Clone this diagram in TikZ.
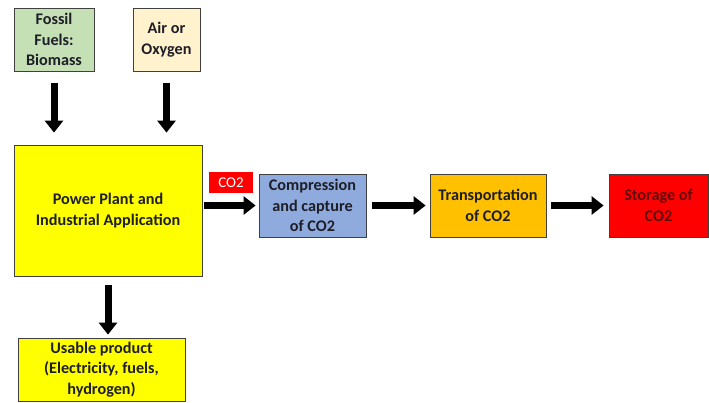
\documentclass[tikz,border=0pt]{standalone}
\usepackage{fontspec}
\setmainfont{Carlito}
\usetikzlibrary{arrows.meta}
\definecolor{fuelgreen}{RGB}{197,224,180}
\definecolor{aircream}{RGB}{255,242,204}
\definecolor{plantyellow}{RGB}{255,255,0}
\definecolor{compblue}{RGB}{143,170,220}
\definecolor{transorange}{RGB}{255,192,0}
\definecolor{storered}{RGB}{255,0,0}
\definecolor{boxline}{RGB}{64,64,64}
\definecolor{txt}{RGB}{30,30,40}
\definecolor{storetxt}{RGB}{95,10,10}

\begin{document}
\begin{tikzpicture}[x=1pt,y=-1pt,
  box/.style={rectangle,draw=boxline,line width=0.8pt,text=txt,align=center,
    inner sep=0pt,font=\fontsize{16.2}{20.5}\selectfont\bfseries},
  fat/.style={line width=7pt,-{Triangle[width=18pt,length=12pt]}}]
   \useasboundingbox (0,0) rectangle (709,402);
   \begin{scope}[every node/.style={box}]
    \node[fill=fuelgreen,minimum width=80pt,minimum height=63pt] (fuel) at (54,39.5) {Fossil\\Fuels:\\Biomass};
    \node[fill=aircream,minimum width=67pt,minimum height=63pt] (air) at (166.5,39.5) {Air or\\Oxygen};
    \node[fill=plantyellow,minimum width=188pt,minimum height=131pt] (plant) at (108,210.5) {Power Plant and\\Industrial Application};
    \node[fill=compblue,minimum width=107pt,minimum height=63pt] (comp) at (312.5,205.5) {Compression\\and capture\\of CO2};
    \node[fill=transorange,minimum width=116pt,minimum height=63pt] (trans) at (488,205.5) {Transportation\\of CO2};
    \node[fill=storered,text=storetxt,minimum width=99pt,minimum height=63pt] (store) at (658.5,205.5) {Storage of\\CO2};
    \node[fill=plantyellow,minimum width=167pt,minimum height=63pt] (prod) at (101.5,369.5) {Usable product\\(Electricity, fuels,\\hydrogen)};
    \node[fill=storered,text=white,draw=none,minimum width=44pt,minimum height=21pt,
      font=\fontsize{15}{17}\selectfont] (co2) at (231,182.5) {CO2};
   \end{scope}
   \begin{scope}[every path/.style={fat}]
    \draw[shorten <=12pt,shorten >=12pt] (fuel) -- (fuel |- plant.north);
    \draw[shorten <=12pt,shorten >=12pt] (air) -- (air |- plant.north);
    \draw[shorten <=9pt,shorten >=3pt] (plant.south) -- (plant.south |- prod.north);
    \draw[shorten <=2pt,shorten >=3pt] (plant.east |- comp) -- (comp);
    \draw[shorten <=6pt,shorten >=4pt] (comp) -- (trans);
    \draw[shorten <=5pt,shorten >=5pt] (trans) -- (store);
   \end{scope}
\end{tikzpicture}
\end{document}
